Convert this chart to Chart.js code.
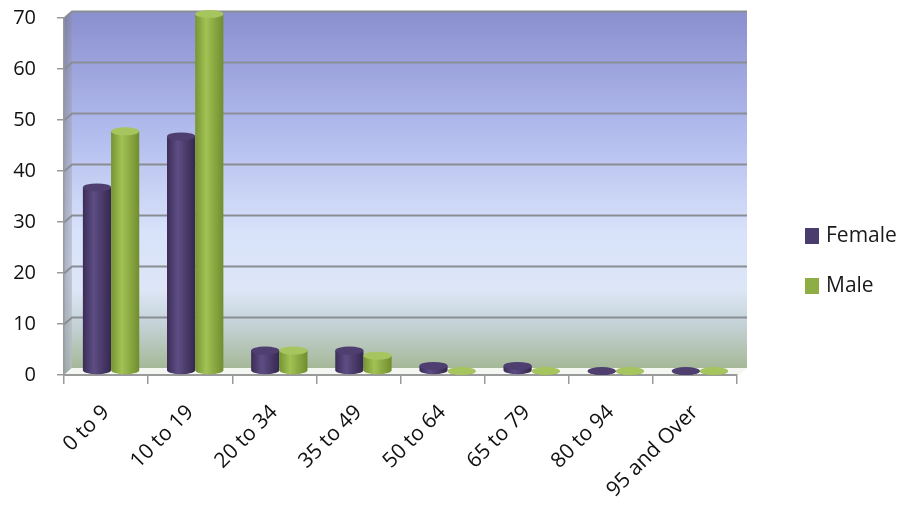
<!DOCTYPE html>
<html>
<head>
<meta charset="utf-8">
<script src="https://cdn.jsdelivr.net/npm/chart.js@4.4.1/dist/chart.umd.min.js"></script>
<style>
  html, body { margin: 0; padding: 0; background: #ffffff; }
  #wrap { width: 907px; height: 508px; }
</style>
</head>
<body>
<div id="wrap"><canvas id="c" width="907" height="508"></canvas></div>
<script>
// Age groups and counts per group
const categories = ['0 to 9', '10 to 19', '20 to 34', '35 to 49', '50 to 64', '65 to 79', '80 to 94', '95 and Over'];
const femaleValues = [36, 46, 4, 4, 1, 1, 0, 0];
const maleValues = [47, 70, 4, 3, 0, 0, 0, 0];
const seriesNames = ['Female', 'Male'];
const yTicks = [0, 10, 20, 30, 40, 50, 60, 70];

// Cylinder shading for each series
const palettes = [
  { edge: '#3b2d57', light: '#5e4d84', dark: '#35284f', cap: '#4e3f70', key: '#4a3c6c' },
  { edge: '#779433', light: '#a2c254', dark: '#718d2f', cap: '#a7c55e', key: '#8eae45' }
];

const FONT = '"Open Sans", "Liberation Sans", sans-serif';
const DX = 8, DY = -7;          // depth of the back wall
const BX = 5, BY = -4;          // bars sit halfway into the depth

// Back wall, side wall, floor and the gridlines on the back wall
const wallPlugin = {
  id: 'walls',
  beforeDraw(chart) {
    const { ctx, chartArea: a, scales: { y } } = chart;
    ctx.save();
    // back wall
    const g = ctx.createLinearGradient(0, a.top + DY, 0, a.bottom + DY);
    g.addColorStop(0, '#8a8fce');
    g.addColorStop(0.35, '#b3bdee');
    g.addColorStop(0.62, '#d8e2fa');
    g.addColorStop(0.78, '#dde6f6');
    g.addColorStop(0.88, '#c4d2d6');
    g.addColorStop(1, '#a6b898');
    ctx.fillStyle = g;
    ctx.fillRect(a.left + DX, a.top + DY, a.right - a.left + 2, a.bottom - a.top);

    // left side wall
    const s = ctx.createLinearGradient(a.left, 0, a.left + DX, 0);
    s.addColorStop(0, '#8e93a8');
    s.addColorStop(1, '#b4bad0');
    const sv = ctx.createLinearGradient(0, a.top, 0, a.bottom);
    sv.addColorStop(0, 'rgba(110,112,170,0.55)');
    sv.addColorStop(0.7, 'rgba(220,228,240,0.35)');
    sv.addColorStop(1, 'rgba(170,185,160,0.5)');
    ctx.beginPath();
    ctx.moveTo(a.left, a.top);
    ctx.lineTo(a.left + DX, a.top + DY);
    ctx.lineTo(a.left + DX, a.bottom + DY);
    ctx.lineTo(a.left, a.bottom);
    ctx.closePath();
    ctx.fillStyle = s; ctx.fill();
    ctx.fillStyle = sv; ctx.fill();

    // floor
    ctx.beginPath();
    ctx.moveTo(a.left, a.bottom);
    ctx.lineTo(a.left + DX, a.bottom + DY);
    ctx.lineTo(a.right + DX + 2, a.bottom + DY);
    ctx.lineTo(a.right + 2, a.bottom);
    ctx.closePath();
    ctx.fillStyle = '#f4f6f2'; ctx.fill();

    // gridlines on back and side walls
    ctx.strokeStyle = '#8a8d94';
    ctx.lineWidth = 2;
    yTicks.forEach(v => {
      if (v === 0) return;
      const py = Math.round(y.getPixelForValue(v)) + 0.5;
      ctx.beginPath();
      ctx.moveTo(a.left, py);
      ctx.lineTo(a.left + DX, py + DY);
      ctx.lineTo(a.right + DX + 2, py + DY);
      ctx.stroke();
    });
    ctx.restore();
  }
};

function cylinder(ctx, x, top, base, w, pal) {
  const l = x - w / 2, r = x + w / 2, ry = 4;
  const g = ctx.createLinearGradient(l, 0, r, 0);
  g.addColorStop(0, pal.edge);
  g.addColorStop(0.38, pal.light);
  g.addColorStop(1, pal.dark);
  ctx.fillStyle = g;
  ctx.beginPath();
  ctx.moveTo(l, top);
  ctx.lineTo(l, base);
  ctx.ellipse(x, base, w / 2, ry, 0, Math.PI, 0, true);
  ctx.lineTo(r, top);
  ctx.closePath();
  ctx.fill();
  ctx.beginPath();
  ctx.ellipse(x, top, w / 2, ry, 0, 0, Math.PI * 2);
  ctx.fillStyle = pal.cap;
  ctx.fill();
}

// Draws each bar element as a shaded cylinder
const cylinderPlugin = {
  id: 'cylinders',
  afterDatasetsDraw(chart) {
    const { ctx } = chart;
    ctx.save();
    ctx.translate(BX, BY);
    chart.data.datasets.forEach((ds, di) => {
      const meta = chart.getDatasetMeta(di);
      meta.data.forEach(bar => {
        const p = bar.getProps(['x', 'y', 'base', 'width'], true);
        cylinder(ctx, p.x, p.y, p.base, p.width, palettes[di]);
      });
    });
    ctx.restore();
  }
};

// Legend at the right
const keyPlugin = {
  id: 'sideKey',
  afterDraw(chart) {
    const { ctx } = chart;
    ctx.save();
    ctx.font = '21px ' + FONT;
    ctx.textBaseline = 'middle';
    ctx.textAlign = 'left';
    chart.data.datasets.forEach((ds, i) => {
      const cy = 236 + i * 50;
      ctx.fillStyle = palettes[i].key;
      ctx.fillRect(805, cy - 8, 14, 16);
      ctx.fillStyle = '#1a1a1a';
      ctx.fillText(ds.label, 826, cy);
    });
    ctx.restore();
  }
};

new Chart(document.getElementById('c'), {
  type: 'bar',
  data: {
    labels: categories,
    datasets: [
      { label: seriesNames[0], data: femaleValues, backgroundColor: 'rgba(0,0,0,0)', borderWidth: 0 },
      { label: seriesNames[1], data: maleValues, backgroundColor: 'rgba(0,0,0,0)', borderWidth: 0 }
    ]
  },
  options: {
    responsive: false,
    animation: false,
    events: [],
    layout: { autoPadding: false, padding: { top: 18, right: 170, left: 0, bottom: 0 } },
    datasets: { bar: { categoryPercentage: 0.67, barPercentage: 1.0 } },
    plugins: { legend: { display: false }, tooltip: { enabled: false } },
    scales: {
      x: {
        grid: { display: true, drawOnChartArea: false, offset: true, tickLength: 9, color: '#9a9a9a', lineWidth: 1.5 },
        border: { display: true, color: '#9a9a9a', width: 2 },
        ticks: {
          color: '#111', font: { family: FONT, size: 21 }, maxRotation: 45, minRotation: 45, padding: 16
        },
        afterFit(scale) { scale.height = 133; }
      },
      y: {
        min: 0, max: 70,
        afterBuildTicks(scale) { scale.ticks = yTicks.map(v => ({ value: v })); },
        grid: { display: true, drawOnChartArea: false, tickLength: 7, color: '#9a9a9a', lineWidth: 1.5 },
        border: { display: true, color: '#9a9a9a', width: 1.5 },
        ticks: { color: '#111', font: { family: FONT, size: 20 }, padding: 21 },
        afterFit(scale) { scale.width = 64; scale.paddingTop = 0; scale.paddingBottom = 0; }
      }
    }
  },
  plugins: [wallPlugin, cylinderPlugin, keyPlugin]
});
</script>
</body>
</html>
